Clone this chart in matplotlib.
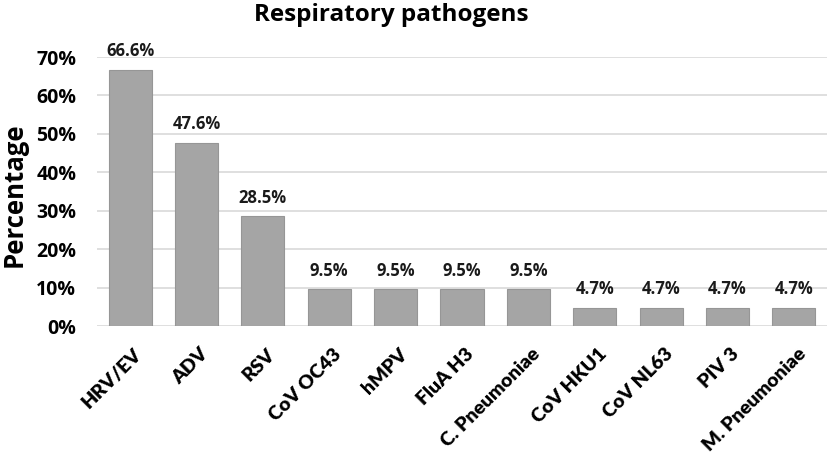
import matplotlib
matplotlib.use("Agg")
import matplotlib.pyplot as plt
from matplotlib.ticker import FuncFormatter
from matplotlib.transforms import ScaledTranslation

categories = ["HRV/EV", "ADV", "RSV", "CoV OC43", "hMPV", "FluA H3",
              "C. Pneumoniae", "CoV HKU1", "CoV NL63", "PIV 3", "M. Pneumoniae"]
values = [66.6, 47.6, 28.5, 9.5, 9.5, 9.5, 9.5, 4.7, 4.7, 4.7, 4.7]
yticks = [0, 10, 20, 30, 40, 50, 60, 70]

plt.rcParams['font.family'] = ['Open Sans', 'DejaVu Sans']

fig = plt.figure(figsize=(8.29, 4.61), dpi=100)
ax = fig.add_axes([97/829, 1-326/461, (827-97)/829, (326-57)/461])

x = list(range(len(categories)))
ax.bar(x, values, width=0.65, color="#a5a5a5", edgecolor="#969696", linewidth=0.8, zorder=3)
for xi, v in zip(x, values):
    ax.annotate(f"{v}%", (xi, v), xytext=(0, 7), textcoords="offset points",
                ha="center", va="bottom", fontsize=12, fontweight="bold", color="#1a1a1a")

ax.set_xlim(-0.5, len(categories) - 0.5)
ax.set_ylim(0, 70)
ax.set_yticks(yticks)
ax.yaxis.set_major_formatter(FuncFormatter(lambda v, p: f"{int(v)}%"))
ax.grid(axis="y", color="#d9d9d9", linewidth=1.2, zorder=0)
for s in ax.spines.values():
    s.set_visible(False)
ax.tick_params(axis="both", length=0)
ax.tick_params(axis="y", pad=15, labelsize=14)
ax.set_xticks(x)
ax.set_xticklabels(categories, rotation=45, ha="right", va="top", rotation_mode="anchor",
                   fontsize=14, fontweight="heavy", family=['Lato', 'DejaVu Sans'])
ax.tick_params(axis="x", pad=14)
shift = ScaledTranslation(3/100, 0, fig.dpi_scale_trans)
for lbl in ax.get_xticklabels():
    lbl.set_transform(lbl.get_transform() + shift)
for lbl in ax.get_yticklabels():
    lbl.set_fontweight("bold")

fig.text(391/829, 1-15/461, "Respiratory pathogens", ha="center", va="center",
         fontsize=17.5, fontweight="bold")
fig.text(14/829, 1-195/461, "Percentage", ha="center", va="center", rotation=90,
         fontsize=18.5, fontweight="bold")

fig.savefig("out.png", dpi=100)
